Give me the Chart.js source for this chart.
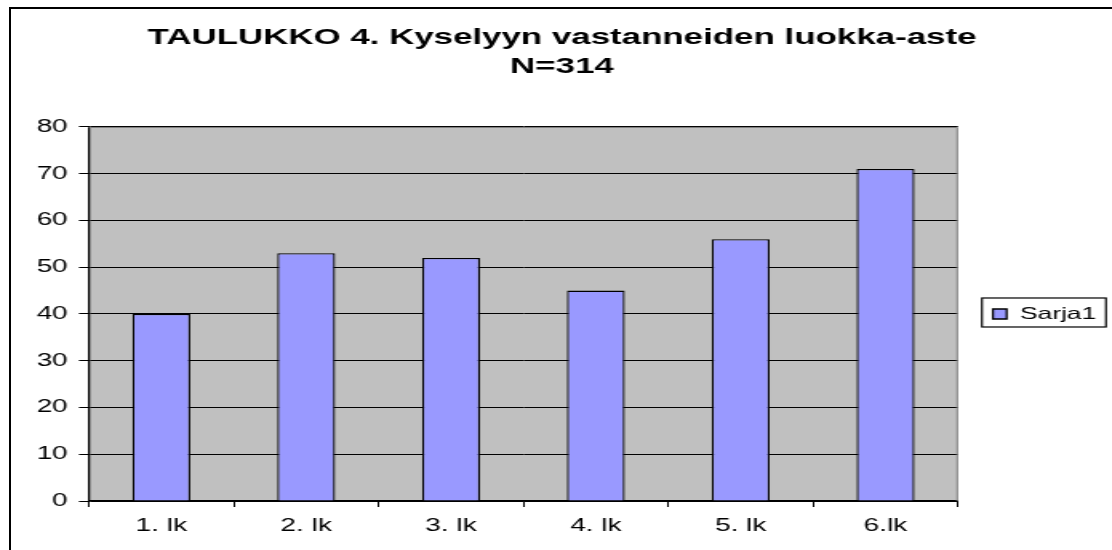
<!DOCTYPE html>
<html>
<head>
<meta charset="utf-8">
<script src="https://cdn.jsdelivr.net/npm/chart.js@4/dist/chart.umd.min.js"></script>
<style>
  body { margin: 0; background: #fff; }
  #wrap { position: relative; width: 1112px; height: 550px; overflow: hidden; background: #fff; }
  #frame { position: absolute; left: 9px; top: 7px; width: 1200px; height: 600px;
           border-left: 2px solid #000; border-top: 2px solid #000; }
  /* the original picture is stretched sideways, so the chart is too */
  #canvas { position: absolute; left: 0; top: 0; transform: scaleX(1.6); transform-origin: 0 0; }
</style>
</head>
<body>
<div id="wrap">
  <div id="frame"></div>
  <canvas id="canvas" width="695" height="550"></canvas>
</div>
<script>
var categories = ['1. lk', '2. lk', '3. lk', '4. lk', '5. lk', '6.lk'];
var sarja1 = [40, 53, 52, 45, 56, 71];
var seriesName = 'Sarja1';
var titleLines = ['TAULUKKO 4. Kyselyyn vastanneiden luokka-aste', 'N=314'];
var yMin = 0, yMax = 80, yStep = 10;

var fontFamily = '"Liberation Sans", Arial, sans-serif';

// grey plot area, its border and the boxed legend
var excelLook = {
    id: 'excelLook',
    beforeDraw: function (chart) {
        var a = chart.chartArea, ctx = chart.ctx;
        ctx.save();
        ctx.fillStyle = '#C0C0C0';
        ctx.fillRect(a.left, a.top, a.right - a.left, a.bottom - a.top);
        ctx.restore();
    },
    afterDraw: function (chart) {
        var a = chart.chartArea, ctx = chart.ctx;
        ctx.save();
        ctx.strokeStyle = '#808080';
        ctx.lineWidth = 1;
        ctx.beginPath();
        ctx.moveTo(a.left, a.top + 0.5);
        ctx.lineTo(a.right - 0.5, a.top + 0.5);
        ctx.lineTo(a.right - 0.5, a.bottom);
        ctx.stroke();

        var lg = chart.legend;
        if (lg && lg.legendHitBoxes.length) {
            var hb = lg.legendHitBoxes[0];
            var cy = hb.top + hb.height / 2;
            ctx.strokeStyle = '#000';
            ctx.lineWidth = 1.2;
            ctx.strokeRect(lg.left + 15, cy - 16, 77.5, 29);
        }
        ctx.restore();
    }
};

var ctx = document.getElementById('canvas').getContext('2d');

var myChart = new Chart(ctx, {
    type: 'bar',
    data: {
        labels: categories,
        datasets: [
            {
                label: seriesName,
                data: sarja1,
                backgroundColor: '#9999FF',
                borderColor: '#000000',
                borderWidth: 1.3,
                barPercentage: 0.4,
                categoryPercentage: 1.0
            }
        ]
    },
    options: {
        responsive: false,
        animation: false,
        devicePixelRatio: 1,
        layout: {
            padding: { left: 7.5, right: 0, top: 0, bottom: 0 }
        },
        plugins: {
            title: {
                display: true,
                text: titleLines,
                color: '#000',
                font: { family: fontFamily, size: 21.8, weight: 'bold', lineHeight: 1.33 },
                padding: { top: 23.5, bottom: 45.5 }
            },
            legend: {
                display: true,
                position: 'right',
                fullSize: false,
                maxWidth: 96.25,
                labels: {
                    color: '#000',
                    font: { family: fontFamily, size: 16.5 },
                    boxWidth: 8.6,
                    boxHeight: 10,
                    padding: 21.85
                }
            },
            tooltip: { enabled: false }
        },
        scales: {
            x: {
                offset: true,
                grid: {
                    display: true,
                    offset: true,
                    drawOnChartArea: false,
                    tickLength: 6,
                    color: '#000',
                    lineWidth: 1
                },
                border: { color: '#000', width: 1.3 },
                ticks: {
                    color: '#000',
                    font: { family: fontFamily, size: 17.5 },
                    padding: 9
                },
                afterFit: function (scale) { scale.height = 49; }
            },
            y: {
                min: yMin,
                max: yMax,
                grid: {
                    color: '#000',
                    lineWidth: 1,
                    tickLength: 6.25
                },
                border: { color: '#000', width: 1.3 },
                ticks: {
                    stepSize: yStep,
                    color: '#000',
                    font: { family: fontFamily, size: 17.5 },
                    padding: 7
                },
                afterFit: function (scale) { scale.width = 48.1; }
            }
        }
    },
    plugins: [excelLook]
});
</script>
</body>
</html>
